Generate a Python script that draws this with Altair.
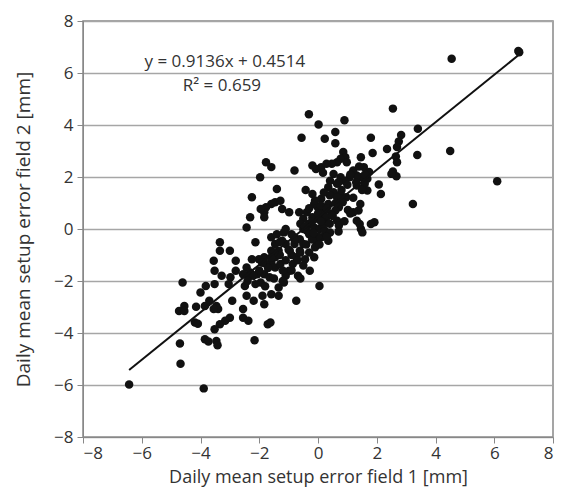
import altair as alt
import pandas as pd

x_vals = [
    6.85, 6.82, 4.55, 4.5, 6.1, 3.23, 2.55, 3.4, 3.38, 2.83, 2.75, 2.69, 2.35, 2.65, 2.69, 2.55, 2.67, 2.5,
    1.8, 1.86, 2.07, 2.14, 1.92, 1.8, 1.46, 1.42, 1.32, 1.51, 1.46, 1.56, 1.74, 1.68, 1.59, 1.68, 1.44, 1.32,
    1.2, 1.08, 1.32, 1.44, 1.38, 1.2, 1.02, 0.9, 0.59, 0.59, 0.86, 0.93, 0.77, 0.98, 0.65, 0.47, 0.23, 0.02,
    -0.31, -0.56, -0.19, -0.07, 0.11, 0.29, 0.17, -0.42, -0.19, 0.53, 0.77, 0.9, 0.65, 0.41, 0.35, 0.53,
    0.77, 0.96, 0.84, 0.65, 0.71, 0.59, 0.65, 0.71, 0.47, 0.35, 0.11, -0.01, -0.13, 0.23, 0.11, 0.29, 0.17,
    -0.01, -0.19, -0.31, -0.13, 0.05, 0.23, 0.41, 0.11, 0.35, -0.07, -0.25, -0.38, -0.5, -0.64, -0.5, -0.38,
    -0.13, -0.28, 0.05, -0.68, -0.74, -0.5, -0.62, -0.44, -0.74, -0.86, -0.98, -1.1, -0.96, -1.1, -0.8, -0.62,
    -0.8, -0.98, -0.8, -1.16, -1.22, -1.34, -1.46, -1.59, -1.46, -1.28, -1.16, -1.34, -1.34, -1.59, -1.77,
    -1.4, -1.46, -1.28, -1.59, -1.22, -1.77, -1.83, -1.95, -1.83, -1.97, -2.25, -2.31, -2.43, -2.13, -1.59,
    -1.46, -1.59, -1.83, -1.77, -2.01, -2.25, -2.43, -2.31, -2.07, -1.83, -1.65, -1.95, -2.13, -2.37, -2.55,
    -2.49, -2.43, -1.89, -1.83, -1.59, -2.19, -2.55, -2.55, -2.37, -2.16, -1.71, -1.62, -2.8, -2.8, -2.98,
    -3.34, -3.0, -3.34, -3.55, -3.52, -3.28, -3.52, -3.82, -4.0, -4.61, -4.15, -4.73, -4.55, -4.55, -4.19,
    -4.09, -3.85, -3.46, -3.4, -2.92, -3.0, -3.16, -3.34, -3.52, -3.85, -3.73, -3.46, -3.42, -4.7, -4.68,
    -6.43, -3.89, -3.7, -3.55, -3.04,
    -0.3, -0.2, 0.0, 0.1, 0.2, 0.3, -0.4, -0.6, -0.7, -0.9, -1.0, -1.1, -0.5, -0.3, -0.1, 0.0, -0.8, -1.2,
    -1.3, -1.5, -1.6, -1.7, -1.9, -2.0, -2.2, -2.4, -1.8, -1.5, -1.2, -0.9, -0.6, 0.4, 0.5, 0.6, 0.8, 1.0,
    1.1, 1.3, 1.5, 1.6, 1.4, 0.7, 0.4, 0.2, -0.1, -0.3, -0.6, -0.9, -1.1, -1.4, -1.3, 0.7, 0.9, 1.1, 1.2,
    0.3, -0.2, 0.1, -0.45, -0.15, 0.05,
]
y_vals = [
    6.8, 6.85, 6.55, 3.0, 1.84, 0.96, 4.63, 3.86, 2.85, 3.62, 3.37, 3.15, 3.08, 2.79, 2.57, 2.21, 2.03, 2.12,
    3.51, 2.92, 1.71, 1.35, 0.26, 0.19, 0.0, 0.19, 0.32, -0.13, 2.76, 2.38, 2.19, 1.93, 1.74, 1.48, 1.99, 2.06,
    2.25, 1.99, 1.67, 0.96, 0.71, 0.64, 0.73, 4.18, 3.73, 3.3, 2.96, 2.76, 2.7, 2.57, 2.57, 2.51, 3.47, 4.02,
    4.41, 3.51, 2.44, 2.31, 2.38, 2.51, 2.16, 1.5, 1.35, 2.12, 1.99, 1.86, 1.74, 1.86, 1.61, 1.41,
    1.35, 1.22, 1.03, 1.22, 0.84, 0.71, 0.32, 0.13, 0.58, 0.96, 1.16, 0.84, 0.96, 0.71, 0.58, 0.45, 0.26,
    0.39, 0.45, 0.19, 0.06, 0.0, -0.06, -0.13, -0.32, -0.45, -0.45, -0.19, -0.06, 0.0, 0.64, 0.39, 0.64,
    -1.09, -1.61, -2.19, -1.8, -2.76, -0.58, -0.84, -1.16, -1.09, -1.35, -1.61, -1.8, -0.84, -0.58, -0.58, -0.39,
    -0.32, 0.64, 2.25, -0.13, -0.45, -0.84, -1.09, -1.29, -1.48, -1.35, -2.06, -2.25, -2.57, 2.38, 2.57,
    1.54, 1.03, 1.09, 0.96, 0.77, 0.84, 0.64, 0.77, 0.45, 1.99, 1.22, 0.45, 0.06, -0.51, -0.32,
    -0.58, -0.84, -1.09, -1.35, -1.16, -1.16, -1.48, -1.67, -1.74, -1.74, -1.86, -2.06, -2.12, -1.86, -1.74,
    -2.19, -2.57, -2.57, -2.89, -2.51, -2.76, -3.08, -3.41, -3.53, -4.28, -3.66, -3.6, -1.22, -1.61, -1.86,
    -0.84, -0.84, -0.51, -1.22, -1.61, -1.8, -2.12, -2.19, -2.44, -2.06, -2.99, -3.15, -2.96, -3.15, -3.6,
    -3.64, -2.96, -2.96, -3.08, -2.76, -3.41, -3.53, -3.66, -3.86, -4.24, -4.33, -4.31, -4.47, -4.4, -5.18,
    -5.98, -6.13, -2.76, -3.08, -2.12,
    -0.2, 0.3, 0.6, 0.9, 0.2, 0.8, -0.6, -0.9, -1.2, -1.0, -0.8, -1.2, -1.4, -0.9, -0.7, -0.3, -0.4, -1.6,
    -1.0, -0.9, -1.1, -1.5, -1.3, -1.6, -1.8, -2.0, -2.2, -1.9, -2.0, -1.6, -1.9, 0.2, 0.5, 1.0, 1.5, 1.7,
    2.1, 1.8, 1.5, 2.1, 2.4, 1.8, 1.3, 1.4, 1.1, 0.8, 0.2, -0.2, 0.0, -0.2, -0.5, -0.1, 0.3, 0.6, 1.2,
    -0.3, -0.4, 0.3, 0.1, -0.15, -0.6,
]

slope = 0.9136
intercept = 0.4514
line_x = [-6.43, 6.85]
eq_text = ["y = 0.9136x + 0.4514", "R\u00b2 = 0.659"]
eq_x = [-3.17, -3.27]
eq_y = [6.43, 5.5]
ticks = [-8, -6, -4, -2, 0, 2, 4, 6, 8]

pts = pd.DataFrame({"x": x_vals, "y": y_vals})
line_df = pd.DataFrame({"x": line_x, "y": [slope * v + intercept for v in line_x]})
txt_df = pd.DataFrame({"x": eq_x, "y": eq_y, "t": eq_text})

FONT = "Open Sans"

xs = alt.Scale(domain=[-8, 8], nice=False, zero=False)
ys = alt.Scale(domain=[-8, 8], nice=False, zero=False)

x_axis = alt.Axis(values=ticks, grid=False, title="Daily mean setup error field 1 [mm]",
                  labelFontSize=17, titleFontSize=18, labelFont=FONT, titleFont=FONT,
                  labelColor="#333", titleColor="#333", domainColor="#888", tickColor="#888",
                  tickSize=6, labelPadding=2, titlePadding=7, titleFontWeight="normal",
                  labelExpr="replace(datum.label, '-', '\u2212')")
y_axis = alt.Axis(values=ticks, grid=True, gridColor="#a6a6a6", gridWidth=1.5,
                  title="Daily mean setup  error  field 2 [mm]",
                  labelFontSize=17, titleFontSize=19, labelFont=FONT, titleFont=FONT,
                  labelColor="#333", titleColor="#333", domainColor="#888", tickColor="#888",
                  tickSize=6, labelPadding=4, titlePadding=20, titleFontWeight="normal",
                  labelExpr="replace(datum.label, '-', '\u2212')")

points = alt.Chart(pts).mark_circle(size=72, color="#111", opacity=1).encode(
    x=alt.X("x:Q", scale=xs, axis=x_axis),
    y=alt.Y("y:Q", scale=ys, axis=y_axis),
)
trend = alt.Chart(line_df).mark_line(color="#111", strokeWidth=2).encode(
    x=alt.X("x:Q", scale=xs), y=alt.Y("y:Q", scale=ys)
)
label = alt.Chart(txt_df).mark_text(font=FONT, fontSize=17, color="#333", align="center").encode(
    x=alt.X("x:Q", scale=xs), y=alt.Y("y:Q", scale=ys), text="t:N"
)

chart = alt.layer(points, trend, label).properties(
    width=470, height=416,
    autosize=alt.AutoSizeParams(type="none"),
    padding={"left": 75, "top": 13, "right": 5, "bottom": 53},
).configure_view(stroke="#888", strokeWidth=1.5)

chart.save("out.html", embed_options={"renderer": "svg", "actions": False})
